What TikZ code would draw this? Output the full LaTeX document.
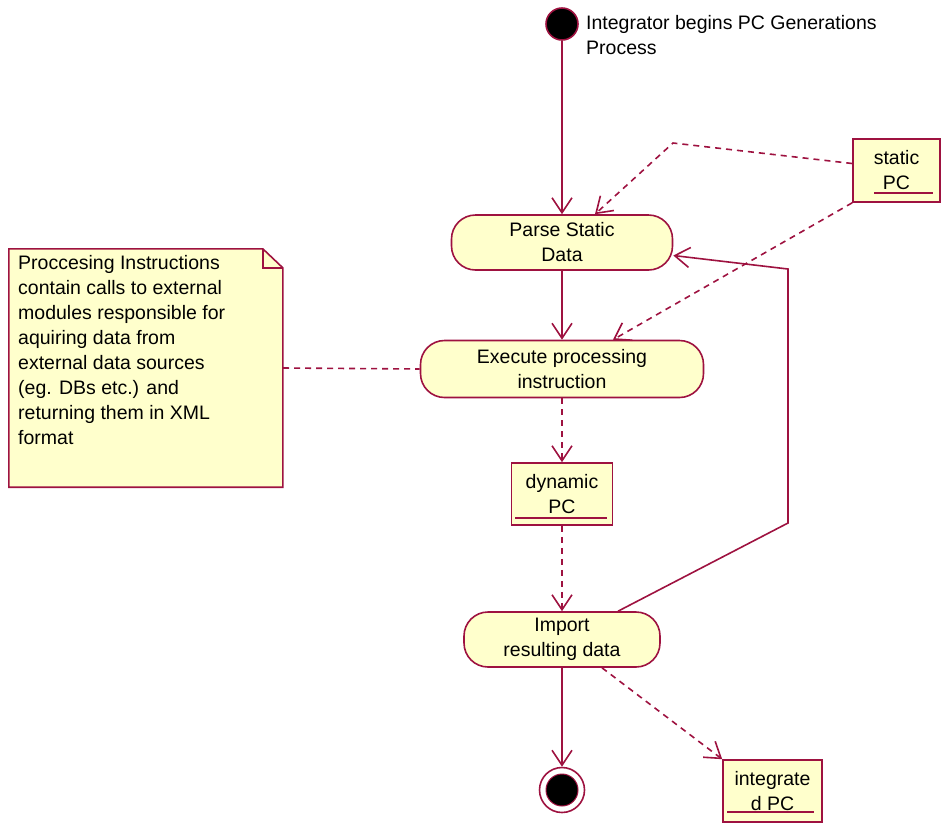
\documentclass[tikz,border=0pt]{standalone}
\usepackage{fontspec}
\setmainfont{Liberation Sans}
\usetikzlibrary{arrows.meta}
\definecolor{umlred}{RGB}{158,18,64}
\definecolor{umlfill}{RGB}{255,255,204}
\tikzset{
  lw/.style={line width=1.6pt},
  txt/.style={font=\fontsize{19.5}{25}\selectfont, align=center, inner sep=0pt},
  activity/.style={draw=umlred, fill=umlfill, lw, rounded corners=24pt, txt},
  object/.style={draw=umlred, fill=umlfill, lw, txt},
  flow/.style={draw=umlred, lw, -{Straight Barb[length=15pt,width=20pt,line width=1.6pt]}},
  dep/.style={flow, dash pattern=on 6pt off 5pt},
  link/.style={draw=umlred, lw, dash pattern=on 6pt off 5pt},
  underl/.style={draw=umlred, lw},
}
\begin{document}
\begin{tikzpicture}[x=1pt,y=-1pt]
  \useasboundingbox (0,0) rectangle (947,823);

  % start and final states
  \node[circle, draw=umlred, fill=black, lw, minimum size=32pt, inner sep=0pt] (start) at (562,24) {};
  \node[txt, align=left, anchor=west] (startlbl) at (586,35) {Integrator begins PC Generations\\Process};

  \node[circle, draw=umlred, fill=white, lw, minimum size=45pt, inner sep=0pt] (final) at (562,790) {};
  \node[circle, draw=umlred, fill=black, line width=1pt, minimum size=32pt, inner sep=0pt] (finalin) at (562,790) {};

  % activities
  \node[activity, minimum width=221pt, minimum height=55pt] (parse) at (562,242.5) {Parse Static\\Data};
  \node[activity, minimum width=283pt, minimum height=57pt] (exec) at (562,369) {Execute processing\\instruction};
  \node[activity, minimum width=196pt, minimum height=55pt] (imp) at (562,639.5) {Import\\resulting data};

  % objects
  \node[object, minimum width=87pt, minimum height=63pt] (static) at (896.5,170.5) {static\\PC};
  \draw[underl] (874,193) -- (933,193);
  \node[object, minimum width=101pt, minimum height=62pt] (dyn) at (562,494) {dynamic\\PC};
  \draw[underl] (515,518) -- (607,518);
  \node[object, minimum width=99pt, minimum height=62pt] (integ) at (772.5,791) {integrate\\d PC};
  \draw[underl] (727,812) -- (814,812);

  % note with folded corner
  \node[minimum width=274pt, minimum height=238pt, inner sep=0pt] (note) at (146,368) {};
  \draw[umlred, fill=umlfill, lw]
    (note.north west) -- ++(254,0) -- ++(20,19) |- (note.south west) -- cycle;
  \draw[umlred, lw] ([xshift=-20pt]note.north east) -- ++(0,19) -- ++(20,0);
  \node[txt, align=left, anchor=north west] (notetxt) at (18,255)
    {Proccesing Instructions\\contain calls to external\\modules responsible for\\aquiring data from\\external data sources\\(eg. DBs etc.) and\\returning them in XML\\format};

  % control flow
  \draw[flow] (start) -- (parse);
  \draw[flow] (parse) -- (exec);
  \draw[dep] (exec) -- (dyn);
  \draw[dep] (dyn) -- (imp);
  \draw[flow] (imp) -- (final);
  \coordinate (r1) at (788,523);
  \coordinate (r2) at (788,269);
  \draw[flow] ([xshift=56pt]imp.north) -- (r1) -- (r2) -- ([yshift=-13pt]parse.east);

  % object flows
  \coordinate (s1) at (673,143);
  \draw[dep] ([yshift=7pt]static.west) -- (s1) -- ([xshift=33pt]parse.north);
  \draw[dep] (static.south west) -- ([xshift=51pt]exec.north);
  \draw[dep] ([xshift=40pt]imp.south) -- (integ.north west);

  % note anchor
  \draw[link] (note.east) -- (exec.west);
\end{tikzpicture}
\end{document}
